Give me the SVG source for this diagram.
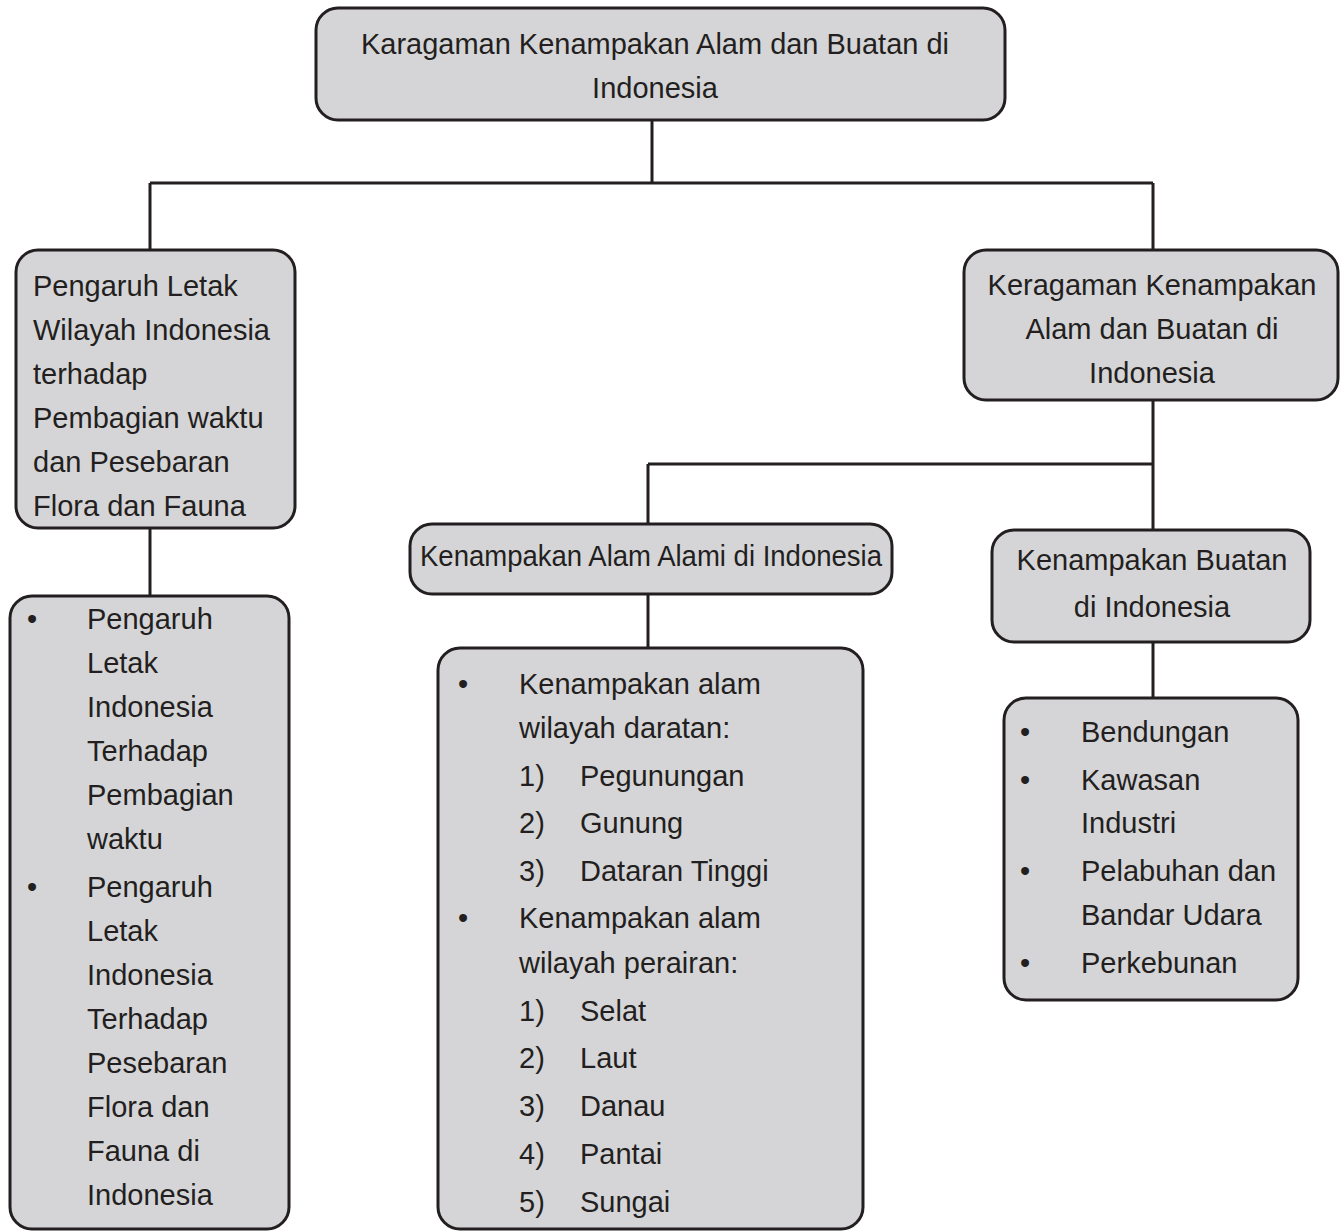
<svg xmlns="http://www.w3.org/2000/svg" width="1343" height="1231" viewBox="0 0 1343 1231">
<style>
.box{fill:#d5d5d7;stroke:#231f20;stroke-width:3}
.t{font-family:"Liberation Sans",Arial,sans-serif;font-size:29px;fill:#231f20}
.c{text-anchor:middle}
.con{stroke:#231f20;stroke-width:3;fill:none}
</style>
<rect width="1343" height="1231" fill="#ffffff"/>
<g id="connectors">
<path class="con" d="M652 120V183M150 183H1153M150 183V250M1153 183V250"/>
<path class="con" d="M150 528V596"/>
<path class="con" d="M1153 400V530M648 464H1153M648 464V524"/>
<path class="con" d="M648 594V648"/>
<path class="con" d="M1153 642V698"/>
</g>
<g id="root">
<rect class="box" x="316" y="8" width="689" height="112" rx="22"/>
<text class="t c" x="655" y="54" textLength="588" lengthAdjust="spacingAndGlyphs">Karagaman Kenampakan Alam dan Buatan di</text>
<text class="t c" x="655" y="98">Indonesia</text>
</g>
<g id="pengaruh">
<rect class="box" x="16" y="250" width="279" height="278" rx="22"/>
<text class="t" x="33" y="296">Pengaruh Letak</text>
<text class="t" x="33" y="340">Wilayah Indonesia</text>
<text class="t" x="33" y="384">terhadap</text>
<text class="t" x="33" y="428">Pembagian waktu</text>
<text class="t" x="33" y="472">dan Pesebaran</text>
<text class="t" x="33" y="516">Flora dan Fauna</text>
</g>
<g id="pengaruh-list">
<rect class="box" x="10" y="596" width="279" height="633" rx="22"/>
<text class="t" x="27" y="629">•</text>
<text class="t" x="87" y="629">Pengaruh</text>
<text class="t" x="87" y="673">Letak</text>
<text class="t" x="87" y="717">Indonesia</text>
<text class="t" x="87" y="761">Terhadap</text>
<text class="t" x="87" y="805">Pembagian</text>
<text class="t" x="87" y="849">waktu</text>
<text class="t" x="27" y="897">•</text>
<text class="t" x="87" y="897">Pengaruh</text>
<text class="t" x="87" y="941">Letak</text>
<text class="t" x="87" y="985">Indonesia</text>
<text class="t" x="87" y="1029">Terhadap</text>
<text class="t" x="87" y="1073">Pesebaran</text>
<text class="t" x="87" y="1117">Flora dan</text>
<text class="t" x="87" y="1161">Fauna di</text>
<text class="t" x="87" y="1205">Indonesia</text>
</g>
<g id="keragaman">
<rect class="box" x="964" y="250" width="374" height="150" rx="22"/>
<text class="t c" x="1152" y="295">Keragaman Kenampakan</text>
<text class="t c" x="1152" y="339">Alam dan Buatan di</text>
<text class="t c" x="1152" y="383">Indonesia</text>
</g>
<g id="alami">
<rect class="box" x="410" y="524" width="482" height="70" rx="22"/>
<text class="t c" x="651" y="566" textLength="462" lengthAdjust="spacingAndGlyphs">Kenampakan Alam Alami di Indonesia</text>
</g>
<g id="alami-list">
<rect class="box" x="438" y="648" width="425" height="581" rx="22"/>
<text class="t" x="458" y="694">•</text>
<text class="t" x="519" y="694">Kenampakan alam</text>
<text class="t" x="519" y="738">wilayah daratan:</text>
<text class="t" x="519" y="786">1)</text><text class="t" x="580" y="786">Pegunungan</text>
<text class="t" x="519" y="833">2)</text><text class="t" x="580" y="833">Gunung</text>
<text class="t" x="519" y="881">3)</text><text class="t" x="580" y="881">Dataran Tinggi</text>
<text class="t" x="458" y="928">•</text>
<text class="t" x="519" y="928">Kenampakan alam</text>
<text class="t" x="519" y="973">wilayah perairan:</text>
<text class="t" x="519" y="1021">1)</text><text class="t" x="580" y="1021">Selat</text>
<text class="t" x="519" y="1068">2)</text><text class="t" x="580" y="1068">Laut</text>
<text class="t" x="519" y="1116">3)</text><text class="t" x="580" y="1116">Danau</text>
<text class="t" x="519" y="1164">4)</text><text class="t" x="580" y="1164">Pantai</text>
<text class="t" x="519" y="1212">5)</text><text class="t" x="580" y="1212">Sungai</text>
</g>
<g id="buatan">
<rect class="box" x="992" y="530" width="318" height="112" rx="22"/>
<text class="t c" x="1152" y="570">Kenampakan Buatan</text>
<text class="t c" x="1152" y="617">di Indonesia</text>
</g>
<g id="buatan-list">
<rect class="box" x="1004" y="698" width="294" height="302" rx="22"/>
<text class="t" x="1020" y="742">•</text>
<text class="t" x="1081" y="742">Bendungan</text>
<text class="t" x="1020" y="790">•</text>
<text class="t" x="1081" y="790">Kawasan</text>
<text class="t" x="1081" y="833">Industri</text>
<text class="t" x="1020" y="881">•</text>
<text class="t" x="1081" y="881">Pelabuhan dan</text>
<text class="t" x="1081" y="925">Bandar Udara</text>
<text class="t" x="1020" y="973">•</text>
<text class="t" x="1081" y="973">Perkebunan</text>
</g>
</svg>
